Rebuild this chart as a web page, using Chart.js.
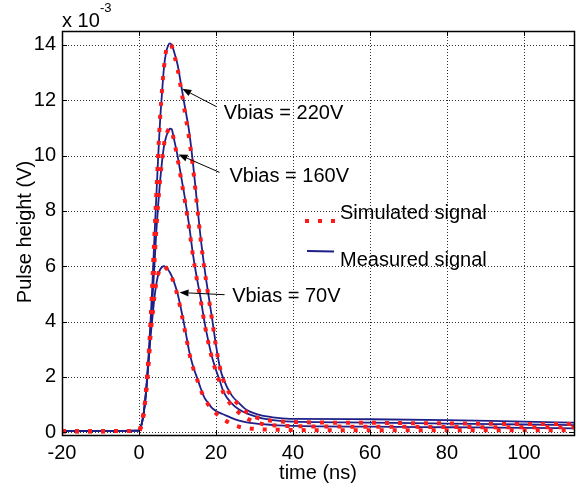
<!DOCTYPE html>
<html><head><meta charset="utf-8">
<script src="https://cdn.jsdelivr.net/npm/chart.js@4.4.0/dist/chart.umd.min.js"></script>
<style>html,body{margin:0;padding:0;background:#fff;}#wrap{width:587px;height:490px;position:relative;}</style>
</head><body><div id="wrap"><canvas id="c" width="587" height="490"></canvas></div>
<script>
// ---- data (time in ns, pulse height in units of 1e-3 V) ----
const T = [-20,-10,0,0.5,1,1.5,2,2.5,3,3.5,4,4.5,5,5.5,6,6.5,7,7.5,8,8.5,9,10,11,12,13,14,15,16,17,18,19,20,21,22,24,26,28,30,32,36,40,60,80,100,113];
const meas220 = [0.04,0.05,0.06,0.2,0.5,1.0,1.8,2.8,4.0,5.4,7.0,8.5,10.0,11.3,12.3,13.2,13.7,13.95,14.05,14.0,13.8,13.3,12.5,11.7,10.9,9.75,8.4,7.05,5.95,5.0,4.1,3.15,2.35,1.9,1.35,1.05,0.8,0.68,0.6,0.52,0.48,0.47,0.44,0.38,0.35];
const sim220  = [0.04,0.04,0.05,0.2,0.5,1.0,1.8,2.8,4.0,5.5,7.1,8.6,10.1,11.4,12.4,13.2,13.75,13.98,14.02,13.95,13.7,13.15,12.35,11.5,10.65,9.6,8.3,7.0,5.9,4.95,4.05,3.1,2.35,1.85,1.3,0.98,0.72,0.56,0.47,0.4,0.37,0.34,0.32,0.3,0.3];
const meas160 = [0.04,0.05,0.06,0.2,0.5,1.0,1.7,2.6,3.7,4.8,6.0,7.25,8.25,9.1,9.8,10.34,10.65,10.85,10.97,10.95,10.65,10.0,9.2,8.4,7.5,6.45,5.6,4.85,4.0,3.3,2.7,2.25,1.85,1.45,1.05,0.82,0.68,0.58,0.5,0.42,0.38,0.35,0.31,0.28,0.26];
const sim160  = [0.04,0.04,0.05,0.2,0.5,1.0,1.7,2.6,3.7,4.9,6.1,7.3,8.3,9.15,9.85,10.4,10.7,10.9,10.98,10.9,10.6,9.9,9.1,8.3,7.4,6.4,5.55,4.8,3.95,3.25,2.65,2.2,1.78,1.4,0.98,0.7,0.5,0.38,0.3,0.24,0.22,0.2,0.19,0.18,0.18];
const meas70  = [0.04,0.05,0.06,0.2,0.5,1.0,1.7,2.55,3.45,4.15,4.85,5.35,5.7,5.88,5.97,6.0,5.95,5.88,5.78,5.64,5.47,5.02,4.4,3.71,2.95,2.4,2.0,1.6,1.25,1.05,0.87,0.77,0.7,0.64,0.52,0.42,0.36,0.32,0.29,0.25,0.23,0.2,0.18,0.16,0.14];
const sim70   = [0.04,0.04,0.05,0.2,0.5,1.0,1.7,2.55,3.5,4.2,4.9,5.4,5.72,5.9,5.98,6.0,5.94,5.86,5.75,5.6,5.42,4.95,4.32,3.62,2.9,2.35,1.95,1.55,1.22,1.0,0.82,0.68,0.56,0.46,0.3,0.2,0.15,0.12,0.1,0.09,0.08,0.07,0.07,0.07,0.07];
const X_TICKS = [-20,0,20,40,60,80,100];
const Y_TICKS = [0,2,4,6,8,10,12,14];
const LEGEND_LABELS = ['Simulated signal','Measured signal'];
// annotations, in data units
const ANNOT_TEXT = ['Vbias = 220V','Vbias = 160V','Vbias = 70V'];
const ANNOT_TEXT_POS = [[22.0,11.33],[23.5,9.05],[24.2,4.69]];
const ANNOT_TAIL = [[20.07,11.77],[20.93,9.39],[22.23,4.97]];
const ANNOT_HEAD = [[11.23,12.41],[10.27,10.04],[10.53,5.05]];

// ---- styles ----
const FONT = '"Liberation Sans", Arial, Helvetica, sans-serif';
const RED = '#ff1a1a';
const BLUE = '#1f1f88';
const pts = (ys) => T.map((t,i)=>({x:t,y:ys[i]}));
const simStyle = {borderColor:RED, borderWidth:4, borderDash:[4,9], borderCapStyle:'butt', pointRadius:0, fill:false, cubicInterpolationMode:'monotone', order:0};
const measStyle = {borderColor:BLUE, borderWidth:1.8, pointRadius:0, fill:false, cubicInterpolationMode:'monotone', order:1};

const decor = {
  id:'decor',
  beforeDatasetsDraw(chart){
    const {ctx, chartArea:a, scales:{x,y}} = chart;
    ctx.save();
    ctx.strokeStyle='rgba(0,0,0,0.8)'; ctx.lineWidth=1; ctx.setLineDash([1,2]);
    X_TICKS.forEach(v=>{ const px=Math.round(x.getPixelForValue(v))+0.5; if(px<=a.left+1||px>=a.right-1) return;
      ctx.beginPath(); ctx.moveTo(px,a.top); ctx.lineTo(px,a.bottom); ctx.stroke(); });
    Y_TICKS.forEach(v=>{ const py=Math.round(y.getPixelForValue(v))+0.5;
      ctx.beginPath(); ctx.moveTo(a.left,py); ctx.lineTo(a.right,py); ctx.stroke(); });
    ctx.restore();
  },
  afterDraw(chart){
    const {ctx, chartArea:a, scales:{x,y}} = chart;
    ctx.save();
    ctx.setLineDash([]); ctx.strokeStyle='#000'; ctx.lineWidth=1.5;
    ctx.strokeRect(Math.round(a.left)+0.5, Math.round(a.top)+0.5, Math.round(a.right-a.left), Math.round(a.bottom-a.top));
    ctx.lineWidth=1; const L=5;
    X_TICKS.forEach(v=>{ const px=Math.round(x.getPixelForValue(v))+0.5;
      ctx.beginPath(); ctx.moveTo(px,a.bottom); ctx.lineTo(px,a.bottom-L); ctx.moveTo(px,a.top); ctx.lineTo(px,a.top+L); ctx.stroke(); });
    Y_TICKS.forEach(v=>{ const py=Math.round(y.getPixelForValue(v))+0.5;
      ctx.beginPath(); ctx.moveTo(a.left,py); ctx.lineTo(a.left+L,py); ctx.moveTo(a.right,py); ctx.lineTo(a.right-L,py); ctx.stroke(); });
    ctx.fillStyle='#000';
    ctx.font='20px '+FONT; ctx.textAlign='center'; ctx.textBaseline='middle';
    ctx.fillText('time (ns)', (a.left+a.right)/2, 473);
    ctx.save(); ctx.translate(25, 232); ctx.rotate(-Math.PI/2); ctx.fillText('Pulse height (V)',0,0); ctx.restore();
    ctx.textAlign='left'; ctx.textBaseline='alphabetic';
    ctx.font='20px '+FONT; ctx.fillText('x 10', 62, 27);
    ctx.font='13px '+FONT; ctx.fillText('-3', 100, 12);
    ctx.font='20px '+FONT;
    ctx.fillText(LEGEND_LABELS[0], 340, 219);
    ctx.fillText(LEGEND_LABELS[1], 340, 266);
    ctx.strokeStyle=RED; ctx.lineWidth=4; ctx.setLineDash([4,9]); ctx.lineCap='butt';
    ctx.beginPath(); ctx.moveTo(305,221); ctx.lineTo(336,221); ctx.stroke();
    ctx.setLineDash([]); ctx.strokeStyle=BLUE; ctx.lineWidth=1.8;
    ctx.beginPath(); ctx.moveTo(307,251); ctx.lineTo(334,251.5); ctx.stroke();
    ctx.fillStyle='#000'; ctx.strokeStyle='#000'; ctx.lineWidth=1;
    ANNOT_TEXT.forEach((txt,i)=>{
      const tx=x.getPixelForValue(ANNOT_TEXT_POS[i][0]), ty=y.getPixelForValue(ANNOT_TEXT_POS[i][1]);
      ctx.fillText(txt, tx, ty);
      const x0=x.getPixelForValue(ANNOT_TAIL[i][0]), y0=y.getPixelForValue(ANNOT_TAIL[i][1]);
      const x1=x.getPixelForValue(ANNOT_HEAD[i][0]), y1=y.getPixelForValue(ANNOT_HEAD[i][1]);
      const ang=Math.atan2(y1-y0,x1-x0), hl=9, hw=3.5;
      const bx=x1-hl*Math.cos(ang), by=y1-hl*Math.sin(ang);
      ctx.beginPath(); ctx.moveTo(x0,y0); ctx.lineTo(bx,by); ctx.stroke();
      ctx.beginPath(); ctx.moveTo(x1,y1);
      ctx.lineTo(bx+hw*Math.sin(ang), by-hw*Math.cos(ang));
      ctx.lineTo(bx-hw*Math.sin(ang), by+hw*Math.cos(ang));
      ctx.closePath(); ctx.fill();
    });
    ctx.restore();
  }
};

new Chart(document.getElementById('c'), {
  type:'line',
  data:{datasets:[
    Object.assign({label:'Simulated 220V', data:pts(sim220)}, simStyle),
    Object.assign({label:'Simulated 160V', data:pts(sim160)}, simStyle),
    Object.assign({label:'Simulated 70V', data:pts(sim70)}, simStyle),
    Object.assign({label:'Measured 220V', data:pts(meas220)}, measStyle),
    Object.assign({label:'Measured 160V', data:pts(meas160)}, measStyle),
    Object.assign({label:'Measured 70V', data:pts(meas70)}, measStyle)
  ]},
  options:{
    responsive:false, devicePixelRatio:1, animation:false,
    layout:{padding:{left:0,right:13,top:31,bottom:0}},
    plugins:{legend:{display:false}, tooltip:{enabled:false}},
    scales:{
      x:{type:'linear', min:-20, max:113,
        afterBuildTicks:s=>{s.ticks=X_TICKS.map(v=>({value:v}));},
        afterFit:s=>{s.height=55;},
        grid:{display:false, drawTicks:false}, border:{display:false},
        ticks:{color:'#000', font:{family:FONT,size:20}, padding:6, maxRotation:0, autoSkip:false}},
      y:{type:'linear', min:-0.1, max:14.5,
        afterBuildTicks:s=>{s.ticks=Y_TICKS.map(v=>({value:v}));},
        afterFit:s=>{s.width=62;},
        grid:{display:false, drawTicks:false}, border:{display:false},
        ticks:{color:'#000', font:{family:FONT,size:20}, padding:6, autoSkip:false}}
    }
  },
  plugins:[decor]
});
</script></body></html>
